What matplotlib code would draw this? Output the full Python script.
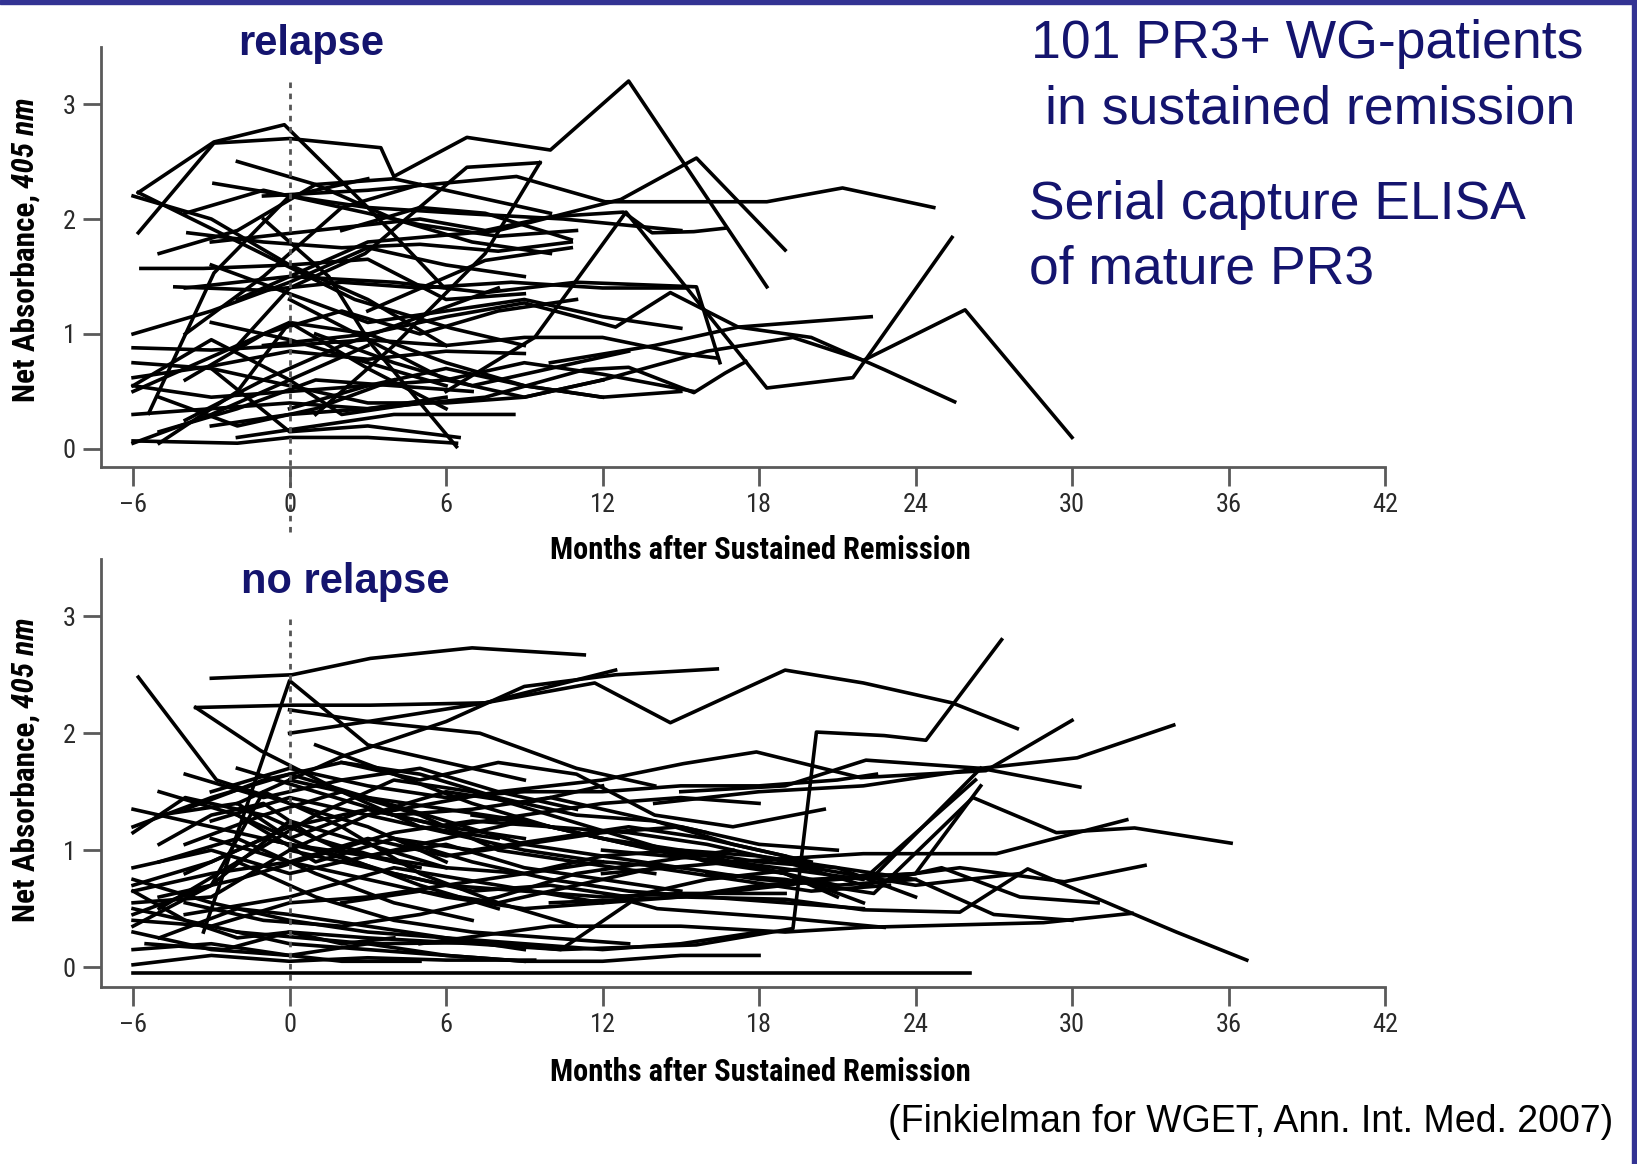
import matplotlib
matplotlib.use("Agg")
import matplotlib.pyplot as plt
from matplotlib import font_manager as fm
from matplotlib.patches import Rectangle

# --- data: months after sustained remission / net absorbance (405 nm) per patient ---
relapse_months = [
    [-5.8, -2.9, 0, 3.5, 4.0, 6.8, 10, 13, 18.3],
    [-5.8, -2.9, -0.2, 3, 5.9],
    [-5.8, -1.6, 2.5, 6.2, 9],
    [-2.9, 0, 3, 6.5, 10.5, 15],
    [-5.7, -3.3, 0, 3, 6, 9],
    [-4.4, -1, 2, 5, 8.5, 12, 15.2],
    [-3.9, -1, 2, 5, 8, 10.8],
    [-6, -3, 0, 3, 6, 9, 12, 15, 16.4],
    [-5.4, -2.9, 0, 3],
    [-6, -3, 0, 3, 6, 9],
    [-6, -4, -2, 0, 3, 6.4],
    [-1, 1.5, 3.1, 6.4],
    [-6, -3, 0, 3, 6, 9, 12, 15.5],
    [-3, 0, 3, 7.5, 11.3, 13, 15.5, 16.7, 17.5],
    [-4, 0, 4, 7.5, 11, 15.6, 16.5],
    [-1, 3, 6, 9, 12.5, 14.6, 17.2, 20, 22.8, 25.5],
    [12, 16, 19.3, 22, 25.9, 30],
    [10, 14, 17.2, 22.3],
    [6, 9.4, 12.9, 18.3, 21.6, 25.4],
    [-1, 3, 8.7, 12.1, 15, 18.3, 21.2, 24.7],
    [-2, 3, 8, 12.7, 15.6, 19],
    [-3, 1, 5, 7.5, 10, 12.8, 13.9, 15.5, 16.7],
    [1, 4, 7.5, 9.6],
    [2, 5, 7.5, 10.8],
    [3, 7.5, 10.8],
    [-6, -3, 0, 3, 6],
    [-3, 0, 3, 6.5],
    [-5, -2, 0, 3, 6],
    [-2, 1, 4, 8.6],
    [-6, -3, 0, 2, 5],
    [-6, -3, 0, 3, 6, 9, 12],
    [-3, 0, 3, 6],
    [-4, -1, 2, 5, 8, 11],
    [-2, 0, 2.9, 6.8, 9.6],
    [-4, -1, 2, 5],
    [-5, -2, 1, 4, 7],
    [0, 3, 6, 9, 12],
    [-6, -3, 0, 3, 6],
    [-5, -2, 1, 4, 7, 10],
    [-6, -3, 0, 3, 6, 9, 12],
    [-4, -1, 2, 5, 8],
    [-3, 0, 3, 6, 9, 12, 15],
    [-6, -3, 0, 3, 6, 9],
    [-2, 1, 4, 7, 10],
    [-5, -2, 1, 4],
    [0, 3, 6, 9, 12, 15],
    [-4, -1, 2, 5, 8, 11],
    [-6, -3, 0, 3],
    [1, 4, 7, 10, 13],
]
relapse_absorb = [
    [1.88, 2.66, 2.7, 2.62, 2.37, 2.71, 2.6, 3.2, 1.41],
    [2.23, 2.67, 2.82, 2.1, 1.41],
    [2.23, 1.76, 1.3, 1.05, 0.9],
    [2.31, 2.2, 2.1, 2.05, 2.0, 1.9],
    [1.57, 1.57, 1.6, 1.65, 1.3, 1.35],
    [1.41, 1.38, 1.45, 1.4, 1.45, 1.4, 1.4],
    [1.88, 1.8, 1.75, 1.78, 1.72, 1.8],
    [0.88, 0.86, 0.9, 0.95, 0.9, 0.97, 0.97, 0.83, 0.79],
    [0.31, 1.53, 2.2, 2.35],
    [0.62, 0.72, 0.85, 0.78, 0.85, 0.83],
    [0.07, 0.06, 0.05, 0.1, 0.1, 0.05],
    [2.0, 1.5, 0.92, 0.02],
    [0.55, 0.45, 0.5, 0.55, 0.6, 0.75, 0.65, 0.5],
    [0.2, 0.3, 0.35, 0.45, 0.69, 0.71, 0.49, 0.66, 0.76],
    [1.4, 1.5, 1.45, 1.36, 1.45, 1.41, 0.75],
    [0.9, 1.0, 1.15, 1.27, 1.06, 1.36, 1.06, 0.97, 0.69, 0.41],
    [0.6, 0.85, 0.97, 0.77, 1.21, 0.1],
    [0.75, 0.9, 1.06, 1.15],
    [0.5, 0.97, 2.06, 0.53, 0.62, 1.84],
    [2.2, 2.25, 2.37, 2.15, 2.15, 2.15, 2.27, 2.1],
    [1.3, 1.8, 1.9, 2.17, 2.53, 1.73],
    [1.8, 1.9, 2.0, 1.9, 2.02, 2.06, 1.88, 1.89, 1.92],
    [0.3, 0.9, 1.7, 2.49],
    [1.9, 2.1, 2.05, 1.82],
    [1.2, 1.64, 1.75],
    [0.3, 0.35, 0.4, 0.35, 0.45],
    [0.7, 0.15, 0.2, 0.1],
    [0.05, 0.5, 1.1, 0.7, 0.35],
    [0.1, 0.2, 0.3, 0.3],
    [0.55, 0.95, 0.6, 0.3, 0.4],
    [0.75, 0.7, 0.55, 0.4, 0.4, 0.45, 0.6],
    [1.1, 0.95, 0.75, 0.55],
    [0.6, 1.0, 1.2, 1.0, 1.2, 1.3],
    [0.9, 1.4, 1.7, 2.45, 2.49],
    [1.0, 1.5, 2.1, 2.3],
    [0.15, 0.35, 0.6, 0.55, 0.5],
    [1.3, 0.95, 0.6, 0.45, 0.6],
    [2.2, 2.0, 1.6, 1.3, 0.9],
    [1.7, 1.9, 2.3, 2.35, 2.2, 2.05],
    [0.5, 0.8, 1.1, 1.0, 0.75, 0.55, 0.45],
    [0.25, 0.6, 0.9, 1.15, 1.4],
    [1.6, 1.35, 1.1, 1.2, 1.3, 1.15, 1.05],
    [1.0, 1.2, 1.45, 1.75, 1.6, 1.5],
    [2.5, 2.3, 2.0, 1.8, 1.7],
    [0.45, 0.2, 0.35, 0.6],
    [0.35, 0.55, 0.7, 0.55, 0.45, 0.5],
    [2.05, 2.25, 2.1, 1.95, 1.85, 1.9],
    [0.05, 0.3, 0.6, 0.9],
    [1.0, 0.75, 0.55, 0.7, 0.85],
]

norelapse_months = [
    [-5.8, -2.8, 0, 3, 6],
    [-3, 0.1, 3.1, 7, 11.3],
    [-3.6, 0.1, 3.1, 7.5, 12.5],
    [-3.6, -1.1, 2, 5, 8],
    [-3.3, 0, 3, 6, 9],
    [0, 3, 7.3, 11, 14],
    [0, 3, 7.5, 11.7, 14.6, 19, 22, 25.4, 27.9],
    [-2, 2, 6, 9, 12.5, 16.4],
    [-2, 3, 7.5, 10.4, 15.6, 19.3, 20.2, 22.8, 24.4, 27.3],
    [3, 8, 12, 15.1, 17.9, 21.9, 26.7, 30],
    [15, 19, 22.1, 26.5, 30.2, 33.9],
    [14, 18, 22, 26.5, 30.3],
    [16, 19, 22.4, 26.2, 29.4, 32.4, 36.1],
    [12, 17, 22, 26.3],
    [15, 19, 22.5, 26.5],
    [10, 15, 19, 22, 25.7, 28.3, 32.3, 34, 36.7],
    [5, 10, 15, 19, 22, 28.9, 32.3],
    [12, 17, 22, 27.1, 32.1],
    [20, 24, 25.7, 29.7, 32.8],
    [-6, 0, 6, 12, 18, 22, 26.1],
    [-6, -3, 0, 3, 6, 9.4],
    [-5.5, -2.5, 0, 3, 7, 10.4, 13.1, 14.1, 19, 22.8],
    [-6, -3, 0, 3, 6, 9],
    [-6, -3, 0, 3, 6, 9, 12, 15, 18],
    [-6, -3, 0, 3, 6, 9, 12],
    [-5, -2, 1, 4, 7, 10, 13],
    [-6, -3, 0, 3, 6, 9, 12, 15.1, 19],
    [-5, -2, 0, 3, 6, 9],
    [-4, -1, 2, 5, 8, 11, 14],
    [-6, -3, 0, 3, 6, 9, 12, 15, 18, 21],
    [-3, 0, 3, 6, 9, 12, 15, 18, 21, 22.5],
    [-2, 1, 4, 7, 10, 13, 16, 19],
    [-5, -2, 1, 4, 7, 10, 13, 16, 19, 21],
    [-4, 0, 4, 8, 12, 16, 20, 24, 28],
    [-6, -3, 0, 3, 6, 9, 12, 15],
    [-2, 1, 4, 7, 10, 13],
    [-4, -1, 2, 5, 8, 11, 14, 17, 20],
    [0, 3, 6, 9, 12, 15, 18, 21, 24],
    [-6, -3, -1, 2, 5, 8, 11],
    [-5, -2, 0, 3, 6, 9, 12, 15, 18],
    [1, 4, 7, 10, 13, 16, 19, 22],
    [-3, 0, 3, 6, 9, 12, 15, 18, 21, 24, 26.5],
    [-6, -4, -2, 0, 2, 4],
    [-5, -3, -1, 1, 4],
    [3, 6, 9, 12, 15, 18, 21, 24, 27, 30],
    [-6, -3, 0, 3, 6, 9, 12, 15, 18],
    [2, 5, 8, 11, 14, 17, 20.5],
    [-4, -1, 2, 5, 8],
    [7, 10, 13, 16, 19, 22, 25, 28, 31],
    [-6, -3, 0, 2, 5],
    [-6, -3, 0, 3, 6, 9, 12],
    [-5, -2, 1, 4, 7, 10],
    [-6, -3, 0, 3, 6],
    [-4, -1, 2, 5, 8, 11, 14, 17],
    [-3, 0, 3, 6, 9, 12, 15, 18, 21, 24],
    [-6, -4, -1, 2, 5],
    [0, 3, 6, 9, 12, 15, 18, 21],
    [-5, -2, 1, 4, 7],
    [2, 5, 8, 11, 14, 17, 20, 23],
    [-6, -3, 0, 3, 6, 9],
    [-2, 1, 4, 7, 10, 13, 16],
    [4, 7, 10, 13, 16, 19, 22],
    [-4, -1, 2, 5, 8, 11],
    [-6, -3, 0, 3, 6, 9, 12, 15],
]
norelapse_absorb = [
    [2.48, 1.6, 1.4, 1.2, 0.9],
    [2.47, 2.5, 2.64, 2.73, 2.67],
    [2.22, 2.24, 2.24, 2.26, 2.54],
    [2.22, 1.85, 1.5, 1.2, 1.1],
    [0.3, 2.45, 1.9, 1.75, 1.6],
    [2.2, 2.1, 2.0, 1.7, 1.55],
    [2.0, 2.1, 2.26, 2.43, 2.09, 2.54, 2.43, 2.26, 2.04],
    [1.4, 1.8, 2.1, 2.4, 2.5, 2.55],
    [0.3, 0.2, 0.21, 0.15, 0.19, 0.33, 2.01, 1.98, 1.94, 2.8],
    [1.3, 1.5, 1.6, 1.74, 1.84, 1.62, 1.68, 2.11],
    [1.5, 1.55, 1.77, 1.7, 1.79, 2.07],
    [1.4, 1.5, 1.55, 1.7, 1.54],
    [0.8, 0.75, 0.63, 1.45, 1.15, 1.19, 1.06],
    [1.0, 0.9, 0.75, 1.6],
    [0.6, 0.7, 0.8, 1.7],
    [0.55, 0.6, 0.58, 0.49, 0.47, 0.84, 0.46, 0.3, 0.06],
    [0.2, 0.35, 0.35, 0.3, 0.34, 0.38, 0.46],
    [0.8, 0.9, 0.97, 0.97, 1.26],
    [0.75, 0.8, 0.85, 0.73, 0.87],
    [-0.05, -0.05, -0.05, -0.05, -0.05, -0.05, -0.05],
    [0.02, 0.1, 0.05, 0.08, 0.06, 0.06],
    [0.2, 0.15, 0.3, 0.25, 0.2, 0.15, 0.56, 0.5, 0.42, 0.34],
    [0.75, 0.55, 0.4, 0.3, 0.25, 0.15],
    [0.7, 0.9, 1.2, 1.35, 1.2, 1.3, 1.4, 1.45, 1.4],
    [0.55, 0.6, 1.0, 1.3, 1.5, 1.4, 1.55],
    [1.5, 1.3, 1.0, 0.8, 0.65, 0.7, 0.6],
    [0.4, 0.35, 0.55, 0.6, 0.7, 0.65, 0.6, 0.63, 0.63],
    [1.3, 1.4, 1.1, 1.35, 1.2, 1.1],
    [1.05, 1.3, 1.5, 1.3, 1.0, 0.9, 0.8],
    [0.65, 0.8, 0.9, 1.1, 0.95, 1.05, 1.15, 1.2, 1.05, 1.0],
    [1.5, 1.7, 1.55, 1.45, 1.5, 1.5, 1.55, 1.55, 1.6, 1.65],
    [1.3, 0.9, 1.1, 1.0, 1.1, 1.2, 1.1, 0.95],
    [0.5, 0.9, 1.3, 1.6, 1.5, 1.3, 1.1, 0.9, 0.8, 0.6],
    [0.45, 0.6, 0.85, 0.7, 0.55, 0.75, 0.85, 0.7, 0.8],
    [1.2, 1.45, 1.65, 1.45, 1.25, 1.05, 0.95, 0.85],
    [0.9, 0.6, 0.4, 0.3, 0.25, 0.2],
    [1.35, 1.6, 1.75, 1.65, 1.45, 1.3, 1.25, 1.05, 0.9],
    [1.0, 0.85, 0.7, 0.8, 0.95, 1.0, 0.95, 0.85, 0.6],
    [0.35, 0.7, 1.5, 1.2, 0.8, 0.55, 0.35],
    [0.25, 0.5, 0.45, 0.35, 0.25, 0.2, 0.15, 0.2, 0.3],
    [1.9, 1.65, 1.4, 1.2, 1.05, 0.95, 0.8, 0.55],
    [1.1, 0.9, 0.75, 0.6, 0.5, 0.55, 0.6, 0.7, 0.75, 0.8, 1.55],
    [0.65, 0.4, 0.25, 0.3, 0.2, 0.25],
    [1.05, 1.3, 1.4, 1.1, 0.9],
    [0.95, 1.1, 1.25, 1.1, 1.0, 0.9, 0.85, 0.75, 0.45, 0.4],
    [0.5, 0.35, 0.2, 0.15, 0.1, 0.05, 0.05, 0.1, 0.1],
    [1.75, 1.6, 1.75, 1.65, 1.3, 1.2, 1.35],
    [0.8, 1.1, 0.95, 0.7, 0.5],
    [1.3, 1.2, 1.15, 1.05, 0.9, 0.7, 0.85, 0.6, 0.55],
    [0.3, 0.15, 0.1, 0.05, 0.05],
    [1.35, 1.2, 1.05, 0.95, 0.85, 0.8, 0.9],
    [0.6, 0.75, 0.95, 1.15, 1.25, 1.2],
    [0.45, 0.7, 1.25, 1.05, 0.85],
    [0.55, 0.4, 0.35, 0.45, 0.6, 0.8, 0.9, 1.0],
    [1.25, 1.45, 1.3, 1.15, 1.0, 0.9, 0.85, 0.75, 0.7, 0.75],
    [1.15, 1.45, 1.3, 1.0, 0.85],
    [1.6, 1.45, 1.35, 1.25, 1.1, 0.95, 0.85, 0.7],
    [0.9, 1.1, 0.8, 0.55, 0.4],
    [0.55, 0.65, 0.55, 0.7, 0.85, 0.75, 0.65, 0.7],
    [0.15, 0.2, 0.1, 0.2, 0.1, 0.05],
    [1.7, 1.5, 1.3, 1.35, 1.45, 1.3, 1.15],
    [1.1, 0.9, 0.75, 0.65, 0.6, 0.55, 0.5],
    [1.65, 1.45, 1.6, 1.7, 1.5, 1.35],
    [0.85, 1.0, 0.8, 0.95, 1.05, 0.85, 0.75, 0.65],
]

x_ticks = [-6, 0, 6, 12, 18, 24, 30, 36, 42]
y_ticks = [0, 1, 2, 3]

NAVY = "#14146e"
AXIS_GREY = "#5a5a5a"
ARIAL = ["Liberation Sans", "DejaVu Sans"]

# pick a condensed face for the axis texts if one is installed
installed = {(f.name, str(f.stretch)) for f in fm.fontManager.ttflist}
names = {n for n, _ in installed}
COND, STRETCH, SHRINK = "Liberation Sans", "normal", 0.84
for cand in ["Liberation Sans Narrow", "Roboto Condensed", "Arial Narrow", "Open Sans Condensed"]:
    if cand in names:
        COND, STRETCH, SHRINK = cand, "normal", 1.0
        break
else:
    if ("DejaVu Sans", "condensed") in installed:
        COND, STRETCH, SHRINK = "DejaVu Sans", "condensed", 0.9
NARROW = [COND, "DejaVu Sans"]

W, H = 1637, 1164
fig = plt.figure(figsize=(W / 100, H / 100), dpi=100)


def axes_px(left, top, right, bottom):
    return fig.add_axes([left / W, 1 - bottom / H, (right - left) / W, (bottom - top) / H])


def setup(ax, ylim):
    ax.set_xlim(-7.23, 42)
    ax.set_ylim(*ylim)
    for s in ("top", "right"):
        ax.spines[s].set_visible(False)
    for s in ("left", "bottom"):
        ax.spines[s].set_color(AXIS_GREY)
        ax.spines[s].set_linewidth(2)
    ax.set_xticks(x_ticks)
    ax.set_xticklabels([str(t).replace("-", "\u2013") for t in x_ticks], family=NARROW,
                       fontstretch=STRETCH, fontsize=19 * SHRINK, color="#2a2a2a")
    ax.set_yticks(y_ticks)
    ax.set_yticklabels([str(t) for t in y_ticks], family=NARROW, fontstretch=STRETCH,
                       fontsize=19 * SHRINK, color="#2a2a2a")
    ax.tick_params(axis="x", direction="out", length=14, width=2, color=AXIS_GREY, pad=5)
    ax.tick_params(axis="y", direction="out", length=13, width=2, color=AXIS_GREY, pad=5)
    ax.patch.set_alpha(0)


ax_top = axes_px(101, 47, 1385, 467)
ax_bot = axes_px(101, 559, 1385, 987)
setup(ax_top, (-0.157, 3.496))
setup(ax_bot, (-0.17, 3.49))

for xs, ys in zip(relapse_months, relapse_absorb):
    ax_top.plot(xs, ys, color="black", lw=2.6)
for xs, ys in zip(norelapse_months, norelapse_absorb):
    ax_bot.plot(xs, ys, color="black", lw=2.6)

# reference line at remission (month 0)
ax_top.plot([0, 0], [3.19, -0.77], color="#555555", lw=2, ls=(0, (2, 2)), clip_on=False)
ax_bot.plot([0, 0], [2.98, -0.17], color="#555555", lw=2, ls=(0, (2, 2)), clip_on=False)

# axis labels
for ycen in (550, 1072):
    fig.text(760 / W, 1 - ycen / H, "Months after Sustained Remission", ha="center", va="center",
             family=NARROW, fontstretch=STRETCH, fontweight="bold", fontsize=22 * SHRINK)

renderer = fig.canvas.get_renderer()
for ycen in (250, 770):
    kw = dict(rotation=90, ha="center", va="bottom", family=NARROW, fontstretch=STRETCH,
              fontweight="bold", fontsize=22.5 * SHRINK)
    t1 = fig.text(26 / W, 0, "Net Absorbance,", **kw)
    t2 = fig.text(26 / W, 0, "405 nm", style="italic", **kw)
    h1 = t1.get_window_extent(renderer).height
    h2 = t2.get_window_extent(renderer).height
    gap = 6
    y0 = (H - ycen) - (h1 + gap + h2) / 2
    t1.set_y(y0 / H)
    t2.set_y((y0 + h1 + gap) / H)

# panel titles
fig.text(311 / W, 1 - 44 / H, "relapse", ha="center", va="center", color=NAVY,
         family=ARIAL, fontweight="bold", fontsize=30)
fig.text(345 / W, 1 - 582 / H, "no relapse", ha="center", va="center", color=NAVY,
         family=ARIAL, fontweight="bold", fontsize=30)

# annotation block
fig.text(1031 / W, 1 - 44 / H, "101 PR3+ WG-patients", ha="left", va="center", color=NAVY,
         family=ARIAL, fontsize=38.5)
fig.text(1045 / W, 1 - 109 / H, "in sustained remission", ha="left", va="center", color=NAVY,
         family=ARIAL, fontsize=38.5)
fig.text(1029 / W, 1 - 205 / H, "Serial capture ELISA", ha="left", va="center", color=NAVY,
         family=ARIAL, fontsize=38.5)
fig.text(1029 / W, 1 - 269 / H, "of mature PR3", ha="left", va="center", color=NAVY,
         family=ARIAL, fontsize=38.5)
fig.text(1613 / W, 1 - 1122 / H, "(Finkielman for WGET, Ann. Int. Med. 2007)", ha="right", va="center",
         color="black", family=ARIAL, fontsize=27)

# slide frame
fig.patches.append(Rectangle((0, 1 - 4 / H), 1, 4 / H, transform=fig.transFigure,
                             color="#333393", zorder=10))
fig.patches.append(Rectangle((1 - 5 / W, 0), 5 / W, 1, transform=fig.transFigure,
                             color="#333393", zorder=10))

fig.savefig("out.png", dpi=100, facecolor="white")
